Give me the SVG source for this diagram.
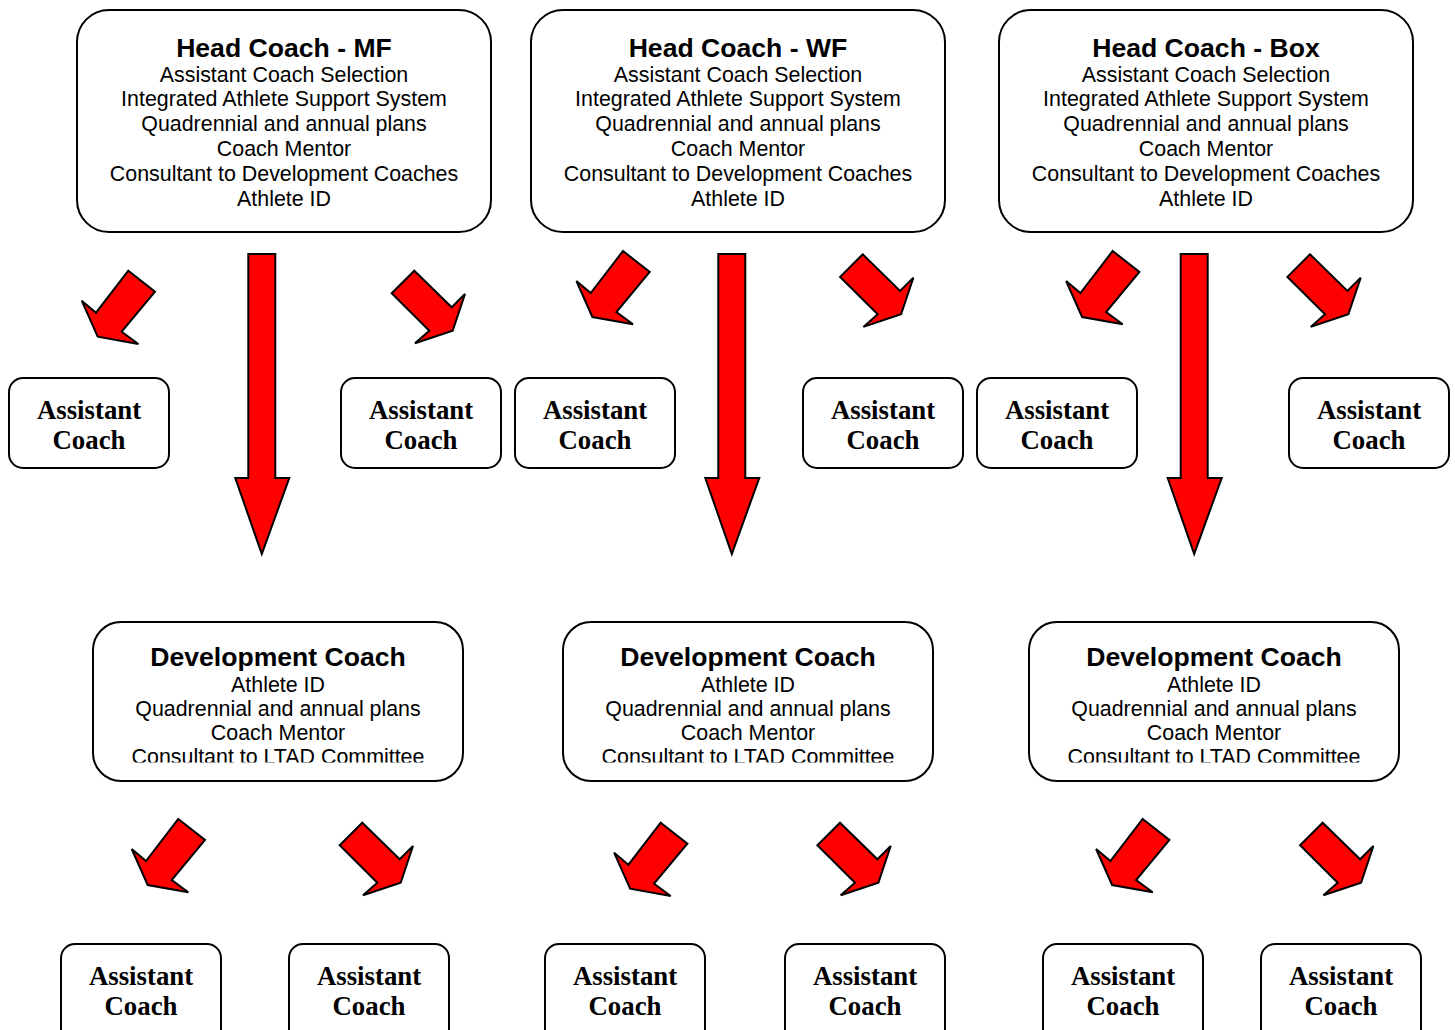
<svg xmlns="http://www.w3.org/2000/svg" xmlns:xlink="http://www.w3.org/1999/xlink" width="1455" height="1030" viewBox="0 0 1455 1030">
<style>
.box{fill:#fff;stroke:#000;stroke-width:2}
.arr{fill:#ff0000;stroke:#000;stroke-width:2;stroke-linejoin:miter}
.t{font-family:"Liberation Sans",Arial,sans-serif;font-weight:bold;font-size:26.6px;text-anchor:middle;fill:#000}
.b{font-family:"Liberation Sans",Arial,sans-serif;font-size:21.4px;text-anchor:middle;fill:#000}
.a{font-family:"Liberation Serif","Times New Roman",serif;font-weight:bold;font-size:26.8px;text-anchor:middle;fill:#000}
</style>
<defs>
<polygon id="la" class="arr" points="0,0 26.7,21 -6.6,61 10,73.3 -30.6,66 -46.6,30 -32.3,42"/>
<polygon id="ra" class="arr" points="0,0 37.4,36.6 50.7,23.3 38.4,60 0.7,72.6 15,60 -22.6,22.6"/>
<polygon id="da" class="arr" points="0,0 27,0 27,224 41,224 13.5,300 -13,224 0,224"/>
<clipPath id="devclip"><rect x="0" y="0" width="1455" height="762.5"/></clipPath>
</defs>
<rect width="1455" height="1030" fill="#fff"/>

<g id="connectors">
<use href="#la" x="128.3" y="270.7"/>
<use href="#ra" x="414.3" y="270.7"/>
<use href="#da" x="248.3" y="254"/>
<use href="#la" x="623" y="251"/>
<use href="#ra" x="862.7" y="254.3"/>
<use href="#da" x="718.3" y="254"/>
<use href="#la" x="1112.7" y="251"/>
<use href="#ra" x="1310" y="254.3"/>
<use href="#da" x="1180.7" y="254"/>
<use href="#la" x="178.3" y="819"/>
<use href="#ra" x="362.3" y="822.7"/>
<use href="#la" x="660.7" y="822.7"/>
<use href="#ra" x="840" y="822.7"/>
<use href="#la" x="1142.7" y="819"/>
<use href="#ra" x="1322.7" y="822.7"/>
</g>

<g id="head-mf">
<rect class="box" x="77" y="10" width="414" height="222" rx="32"/>
<text class="t" x="284" y="57">Head Coach - MF</text>
<text class="b" x="284" y="81.5">Assistant Coach Selection</text>
<text class="b" x="284" y="106.3">Integrated Athlete Support System</text>
<text class="b" x="284" y="131.1">Quadrennial and annual plans</text>
<text class="b" x="284" y="155.9">Coach Mentor</text>
<text class="b" x="284" y="180.7">Consultant to Development Coaches</text>
<text class="b" x="284" y="205.5">Athlete ID</text>
</g>
<g id="head-wf">
<rect class="box" x="531" y="10" width="414" height="222" rx="32"/>
<text class="t" x="738" y="57">Head Coach - WF</text>
<text class="b" x="738" y="81.5">Assistant Coach Selection</text>
<text class="b" x="738" y="106.3">Integrated Athlete Support System</text>
<text class="b" x="738" y="131.1">Quadrennial and annual plans</text>
<text class="b" x="738" y="155.9">Coach Mentor</text>
<text class="b" x="738" y="180.7">Consultant to Development Coaches</text>
<text class="b" x="738" y="205.5">Athlete ID</text>
</g>
<g id="head-box">
<rect class="box" x="999" y="10" width="414" height="222" rx="32"/>
<text class="t" x="1206" y="57">Head Coach - Box</text>
<text class="b" x="1206" y="81.5">Assistant Coach Selection</text>
<text class="b" x="1206" y="106.3">Integrated Athlete Support System</text>
<text class="b" x="1206" y="131.1">Quadrennial and annual plans</text>
<text class="b" x="1206" y="155.9">Coach Mentor</text>
<text class="b" x="1206" y="180.7">Consultant to Development Coaches</text>
<text class="b" x="1206" y="205.5">Athlete ID</text>
</g>

<g id="asst-1"><rect class="box" x="9" y="378" width="160" height="90" rx="14"/><text class="a" x="89" y="418.5">Assistant</text><text class="a" x="89" y="449">Coach</text></g>
<g id="asst-2"><rect class="box" x="341" y="378" width="160" height="90" rx="14"/><text class="a" x="421" y="418.5">Assistant</text><text class="a" x="421" y="449">Coach</text></g>
<g id="asst-3"><rect class="box" x="515" y="378" width="160" height="90" rx="14"/><text class="a" x="595" y="418.5">Assistant</text><text class="a" x="595" y="449">Coach</text></g>
<g id="asst-4"><rect class="box" x="803" y="378" width="160" height="90" rx="14"/><text class="a" x="883" y="418.5">Assistant</text><text class="a" x="883" y="449">Coach</text></g>
<g id="asst-5"><rect class="box" x="977" y="378" width="160" height="90" rx="14"/><text class="a" x="1057" y="418.5">Assistant</text><text class="a" x="1057" y="449">Coach</text></g>
<g id="asst-6"><rect class="box" x="1289" y="378" width="160" height="90" rx="14"/><text class="a" x="1369" y="418.5">Assistant</text><text class="a" x="1369" y="449">Coach</text></g>

<g id="dev-mf">
<rect class="box" x="93" y="622" width="370" height="159" rx="28"/>
<g clip-path="url(#devclip)">
<text class="t" x="278" y="666">Development Coach</text>
<text class="b" x="278" y="691.5">Athlete ID</text>
<text class="b" x="278" y="715.8">Quadrennial and annual plans</text>
<text class="b" x="278" y="740.1">Coach Mentor</text>
<text class="b" x="278" y="764.4">Consultant to LTAD Committee</text>
</g>
</g>
<g id="dev-wf">
<rect class="box" x="563" y="622" width="370" height="159" rx="28"/>
<g clip-path="url(#devclip)">
<text class="t" x="748" y="666">Development Coach</text>
<text class="b" x="748" y="691.5">Athlete ID</text>
<text class="b" x="748" y="715.8">Quadrennial and annual plans</text>
<text class="b" x="748" y="740.1">Coach Mentor</text>
<text class="b" x="748" y="764.4">Consultant to LTAD Committee</text>
</g>
</g>
<g id="dev-box">
<rect class="box" x="1029" y="622" width="370" height="159" rx="28"/>
<g clip-path="url(#devclip)">
<text class="t" x="1214" y="666">Development Coach</text>
<text class="b" x="1214" y="691.5">Athlete ID</text>
<text class="b" x="1214" y="715.8">Quadrennial and annual plans</text>
<text class="b" x="1214" y="740.1">Coach Mentor</text>
<text class="b" x="1214" y="764.4">Consultant to LTAD Committee</text>
</g>
</g>

<g id="asst-7"><rect class="box" x="61" y="944" width="160" height="100" rx="14"/><text class="a" x="141" y="984.5">Assistant</text><text class="a" x="141" y="1015">Coach</text></g>
<g id="asst-8"><rect class="box" x="289" y="944" width="160" height="100" rx="14"/><text class="a" x="369" y="984.5">Assistant</text><text class="a" x="369" y="1015">Coach</text></g>
<g id="asst-9"><rect class="box" x="545" y="944" width="160" height="100" rx="14"/><text class="a" x="625" y="984.5">Assistant</text><text class="a" x="625" y="1015">Coach</text></g>
<g id="asst-10"><rect class="box" x="785" y="944" width="160" height="100" rx="14"/><text class="a" x="865" y="984.5">Assistant</text><text class="a" x="865" y="1015">Coach</text></g>
<g id="asst-11"><rect class="box" x="1043" y="944" width="160" height="100" rx="14"/><text class="a" x="1123" y="984.5">Assistant</text><text class="a" x="1123" y="1015">Coach</text></g>
<g id="asst-12"><rect class="box" x="1261" y="944" width="160" height="100" rx="14"/><text class="a" x="1341" y="984.5">Assistant</text><text class="a" x="1341" y="1015">Coach</text></g>
</svg>
